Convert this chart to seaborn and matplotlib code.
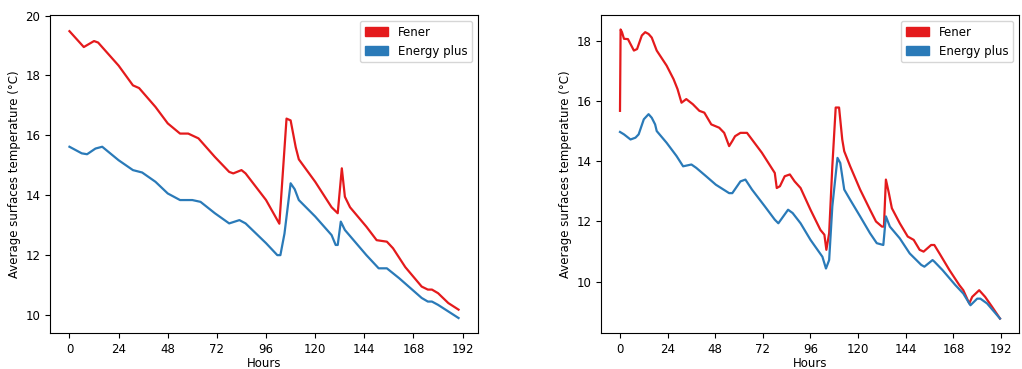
import matplotlib
matplotlib.use("Agg")
import matplotlib.pyplot as plt
import matplotlib.patches as mpatches
import seaborn as sns
import pandas as pd

# ---- Left panel data ----
left_fener_h = [0, 7, 12, 14, 24, 31, 34, 42, 48, 54, 58, 63, 71, 78, 80, 84, 86, 96, 102.5,
                106, 108, 110.5, 112, 120, 128, 131, 133, 134.5, 137, 145, 150, 155, 158, 164,
                172, 175, 177, 180, 185, 190]
left_fener_t = [19.48, 18.95, 19.15, 19.1, 18.33, 17.67, 17.58, 16.95, 16.4, 16.06, 16.06, 15.9,
                15.28, 14.78, 14.73, 14.84, 14.73, 13.84, 13.05,
                16.56, 16.5, 15.6, 15.2, 14.45, 13.6, 13.4, 14.9, 13.95, 13.6, 12.95, 12.5,
                12.45, 12.23, 11.6, 10.95, 10.85, 10.85, 10.73, 10.4, 10.18]

left_ep_h = [0, 6, 8.6, 12.7, 16, 24, 31, 35.5, 42, 48, 54, 60, 64, 71, 78, 83, 86, 96, 101.5,
             103, 105, 108, 110, 112, 120, 128, 130, 131, 132.5, 134.5, 145, 151, 155, 161,
             172, 175, 177, 180, 190]
left_ep_t = [15.62, 15.4, 15.37, 15.56, 15.62, 15.17, 14.84, 14.76, 14.45, 14.06, 13.84, 13.84,
             13.78, 13.4, 13.06, 13.17, 13.06, 12.4, 12.0,
             12.0, 12.72, 14.4, 14.2, 13.84, 13.29, 12.67, 12.34, 12.34, 13.12, 12.84, 12.0,
             11.56, 11.56, 11.23, 10.57, 10.45, 10.45, 10.34, 9.9]

# ---- Right panel data ----
right_fener_h = [0, 0.3, 1, 2, 4, 7, 8.6, 11, 12.7, 14.4, 16, 18.5, 23.5, 27, 29, 31, 33.4,
                 36.7, 40, 42.5, 46, 50, 52.5, 55, 56.6, 58, 60.7, 64, 66.5, 71.5, 78, 79,
                 80.6, 83, 85.6, 88, 91, 96, 101, 103, 104, 105.4, 107, 108.7, 110.4, 112,
                 113, 116, 121, 126, 129, 132, 133, 134, 135.5, 137, 141, 145, 148, 151, 153,
                 156.8, 158.4, 161, 166, 171, 173, 176, 177.5, 181, 182.5, 184, 187.5, 191.5]
right_fener_t = [15.67, 18.37, 18.28, 18.06, 18.05, 17.67, 17.72, 18.17, 18.28, 18.22, 18.1,
                 17.67, 17.17, 16.72, 16.39, 15.94, 16.06,
                 15.89, 15.67, 15.61, 15.22, 15.11, 14.94, 14.5, 14.67, 14.83, 14.94, 14.94,
                 14.72, 14.28, 13.61, 13.11,
                 13.17, 13.5, 13.56, 13.33, 13.11, 12.39, 11.72, 11.56, 11.06, 11.61, 13.83,
                 15.78, 15.78, 14.72,
                 14.33, 13.83, 13.06, 12.39, 12.0, 11.83, 11.83, 13.39, 12.94, 12.44, 11.94,
                 11.5, 11.39, 11.06, 11.0,
                 11.22, 11.22, 10.94, 10.39, 9.89, 9.72, 9.28, 9.5, 9.72, 9.61, 9.5, 9.17, 8.78]

right_ep_h = [0, 2, 5.3, 7.8, 9.4, 12, 14.4, 16, 17.7, 18.5, 23.5, 28.5, 31.8, 36, 38.4, 43.4,
              48.3, 55, 56.6, 60.7, 63.2, 66.5, 73, 78, 79.8, 82.3, 84.7, 87, 91, 96, 102,
              103.8, 105.4, 107, 109.6, 111, 113, 116, 121, 126, 129.4, 132.7, 134, 136, 141,
              146, 151.8, 153.4, 157.5, 158.4, 162.5, 169, 173, 176.6, 180, 181.6, 185, 191.5]
right_ep_t = [14.97, 14.89, 14.72, 14.78, 14.89, 15.39, 15.56, 15.44, 15.22, 15.0, 14.61, 14.17,
              13.83, 13.89, 13.78, 13.5,
              13.22, 12.94, 12.94, 13.33, 13.39, 13.06, 12.5, 12.06, 11.94, 12.17, 12.39,
              12.28, 11.94, 11.39, 10.83,
              10.44, 10.72, 12.5, 14.11, 13.94, 13.06, 12.72, 12.17, 11.61, 11.28, 11.22,
              12.17, 11.83, 11.44,
              10.94, 10.56, 10.5, 10.72, 10.67, 10.39, 9.89, 9.61, 9.22, 9.44, 9.44, 9.28, 8.78]

series_labels = ["Fener", "Energy plus"]
x_ticks = [0, 24, 48, 72, 96, 120, 144, 168, 192]
x_label = "Hours"
y_label = "Average surfaces temperature (°C)"

RED = "#e41a1c"
BLUE = "#2a7ab8"

plt.rcParams["font.size"] = 8.5
fig = plt.figure(figsize=(10.22, 3.69), dpi=100)
ax1 = fig.add_axes([50 / 1022, 1 - 333 / 369, 428 / 1022, 318 / 369])
ax2 = fig.add_axes([601 / 1022, 1 - 333 / 369, 418 / 1022, 318 / 369])

panels = [
    (ax1, left_fener_h, left_fener_t, left_ep_h, left_ep_t),
    (ax2, right_fener_h, right_fener_t, right_ep_h, right_ep_t),
]
for ax, fh, ft, eh, et in panels:
    df_f = pd.DataFrame({"h": fh, "t": ft})
    df_e = pd.DataFrame({"h": eh, "t": et})
    sns.lineplot(data=df_f, x="h", y="t", ax=ax, color=RED, linewidth=1.6)
    sns.lineplot(data=df_e, x="h", y="t", ax=ax, color=BLUE, linewidth=1.6)
    ax.set_xticks(x_ticks)
    ax.set_xlabel(x_label, labelpad=1)
    ax.set_ylabel(y_label, labelpad=3)
    handles = [mpatches.Patch(color=RED, label=series_labels[0]),
               mpatches.Patch(color=BLUE, label=series_labels[1])]
    ax.legend(handles=handles, loc="upper right", fontsize=8.5)

ax1.set_ylim(9.4, 20.02)

fig.savefig("out.png", dpi=100)
